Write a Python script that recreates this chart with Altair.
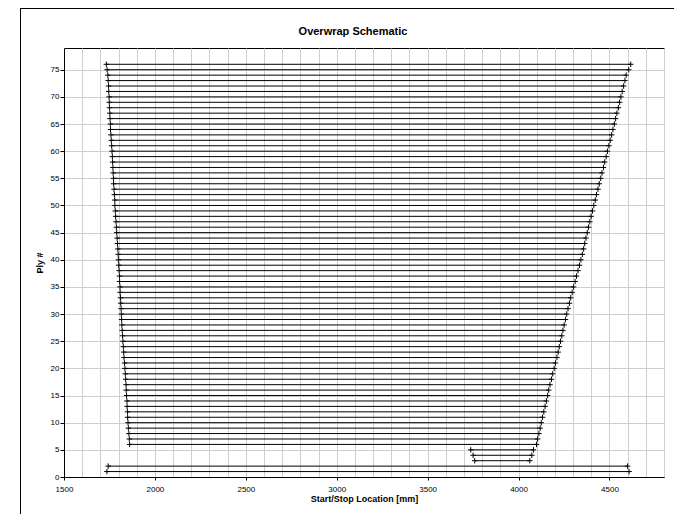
import altair as alt
import pandas as pd

# Ply numbers and read-off start / stop locations [mm]
plies = list(range(1, 77))

starts = [
    1736, 1743, 3759, 3750, 3737,
    1861, 1859, 1857, 1854, 1852, 1850, 1849, 1847, 1846, 1844,
    1842, 1841, 1839, 1837, 1835, 1833, 1830, 1828, 1826, 1824,
    1822, 1820, 1818, 1817, 1815, 1814, 1812, 1811, 1809, 1808,
    1806, 1805, 1803, 1801, 1799, 1798, 1796, 1794, 1792, 1790,
    1788, 1786, 1784, 1782, 1780, 1779, 1777, 1775, 1773, 1772,
    1770, 1769, 1767, 1766, 1764, 1762, 1760, 1758, 1756, 1755,
    1753, 1752, 1750, 1749, 1748, 1746, 1745, 1743, 1741, 1737,
    1733,
]

ends = [
    4608, 4600, 4062, 4073, 4082,
    4099, 4105, 4112, 4119, 4125, 4132, 4139, 4146, 4153, 4160,
    4166, 4173, 4181, 4188, 4196, 4203, 4211, 4218, 4224, 4231,
    4238, 4244, 4251, 4258, 4265, 4272, 4280, 4287, 4295, 4303,
    4311, 4319, 4327, 4335, 4343, 4351, 4358, 4364, 4371, 4378,
    4385, 4392, 4399, 4407, 4414, 4422, 4429, 4437, 4444, 4452,
    4459, 4467, 4474, 4482, 4489, 4497, 4504, 4512, 4519, 4527,
    4534, 4541, 4549, 4556, 4563, 4570, 4578, 4585, 4592, 4606,
    4617,
]

x_grid = list(range(1500, 4801, 100))
y_ticks = list(range(0, 76, 5))

TITLE = "Overwrap Schematic"
X_TITLE = "Start/Stop Location [mm]"
Y_TITLE = "Ply #"

df = pd.DataFrame({"ply": plies, "start": starts, "end": ends})
pts = pd.concat([
    pd.DataFrame({"ply": plies, "loc": starts}),
    pd.DataFrame({"ply": plies, "loc": ends}),
], ignore_index=True)

FONT = "Liberation Sans"

x_scale = alt.Scale(domain=[1500, 4800], nice=False, zero=False)
y_scale = alt.Scale(domain=[0, 79], nice=False, zero=True)

x_axis = alt.Axis(
    title=X_TITLE,
    values=x_grid,
    tickCount=200,
    format="d",
    labelExpr="datum.value % 500 === 0 ? datum.value : ''",
    labelOverlap=False,
    labelFlush=False,
    labelFont=FONT, labelFontSize=8, labelColor="black",
    labelPadding=5,
    titleFont=FONT, titleFontSize=9, titleFontWeight="bold", titleColor="black",
    titlePadding=1,
    tickSize=3,
    tickColor="black",
    tickOpacity={"condition": {"test": "datum.value % 500 === 0", "value": 1}, "value": 0},
    domainColor="black",
    grid=True, gridColor="#cfcfcf", gridWidth=1,
)

y_axis = alt.Axis(
    title=Y_TITLE,
    values=y_ticks,
    tickCount=200,
    format="d",
    labelOverlap=False,
    labelFlush=False,
    labelFont=FONT, labelFontSize=8, labelColor="black",
    labelPadding=1,
    titleFont=FONT, titleFontSize=9, titleFontWeight="bold", titleColor="black",
    titlePadding=6,
    tickSize=4, tickColor="black",
    domainColor="black",
    grid=True, gridColor="#cfcfcf", gridWidth=1,
)

one = alt.Data(values=[{}])

frame_top = alt.Chart(one).mark_rule(color="black", strokeWidth=1).encode(
    x=alt.value(-44), x2=alt.value(640), y=alt.value(-39.5),
)
frame_left = alt.Chart(one).mark_rule(color="black", strokeWidth=1).encode(
    x=alt.value(-43.5), y=alt.value(-40), y2=alt.value(470),
)

title = alt.Chart(one).mark_text(
    text=TITLE, font=FONT, fontSize=11, fontWeight="bold", color="black",
    align="center", baseline="middle",
).encode(x=alt.value(289), y=alt.value(-16))

lines = alt.Chart(df).mark_rule(color="black", strokeWidth=1).encode(
    x=alt.X("start:Q", scale=x_scale, axis=x_axis),
    x2="end:Q",
    y=alt.Y("ply:Q", scale=y_scale, axis=y_axis),
)

marks = alt.Chart(pts).mark_point(
    shape="M0,-1V1M-1,0H1", size=30, color="black",
    filled=False, strokeWidth=1, opacity=1,
).encode(
    x=alt.X("loc:Q", scale=x_scale, axis=x_axis),
    y=alt.Y("ply:Q", scale=y_scale, axis=y_axis),
)

chart = alt.layer(frame_top, frame_left, title, lines, marks).properties(
    width=600,
    height=429,
    autosize=alt.AutoSizeParams(type="none"),
    padding={"left": 56, "top": 40, "right": 10, "bottom": 37},
    background="white",
).configure_view(stroke="black", strokeWidth=1)

chart.save("out.html", embed_options={"renderer": "svg", "actions": False})
